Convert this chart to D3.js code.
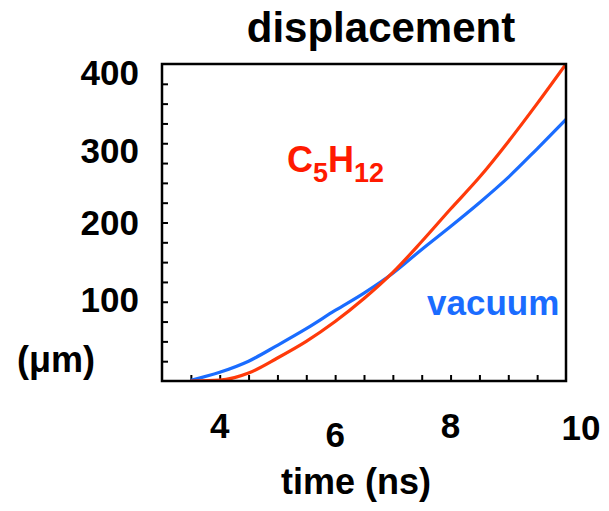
<!DOCTYPE html>
<html>
<head>
<meta charset="utf-8">
<script src="https://cdn.jsdelivr.net/npm/d3@7"></script>
<style>
  html, body { margin: 0; padding: 0; background: #fff; }
  svg { display: block; }
  text { font-family: Arial, "Liberation Sans", Helvetica, sans-serif; font-weight: bold; }
</style>
</head>
<body>
<svg id="chart" width="609" height="511"></svg>
<script>
// ---- data ----
const timeNs = [3.5, 4.0, 4.5, 5.0, 5.5, 6.0, 6.5, 7.0, 7.5, 8.0, 8.5, 9.0, 9.5, 10.0];
const pentaneDisp = [0, 1, 10, 29, 50, 75, 104, 137, 176, 217, 257, 302, 350, 400];
const vacuumDisp  = [1, 11, 25, 45, 66, 89, 111, 136, 166, 195, 225, 257, 293, 330];
const xTickLabels = [4, 6, 8, 10];
const yTickLabels = [100, 200, 300, 400];
const xMinorTicks = [3.5, 4, 4.5, 5, 5.5, 6, 6.5, 7, 7.5, 8, 8.5, 9, 9.5];
const yMinorTicks = [25, 50, 75, 100, 125, 150, 175, 200, 225, 250, 275, 300, 325, 350, 375];
const xDomain = [3, 10];
const yDomain = [0, 400];

// ---- layout ----
const svg = d3.select("#chart");
const plot = { left: 162, right: 566, top: 64, bottom: 381 };

const x = d3.scaleLinear().domain(xDomain).range([plot.left, plot.right]);
const y = d3.scaleLinear().domain(yDomain).range([plot.bottom, plot.top]);

// clip
svg.append("defs").append("clipPath").attr("id", "clip")
  .append("rect").attr("x", plot.left).attr("y", plot.top)
  .attr("width", plot.right - plot.left).attr("height", plot.bottom - plot.top);

// inward ticks
svg.append("g").attr("transform", `translate(0,${plot.bottom})`)
  .call(d3.axisBottom(x).tickValues(xMinorTicks).tickSize(-6).tickFormat(""))
  .call(g => g.select(".domain").remove())
  .call(g => g.selectAll("line").attr("stroke", "#000").attr("stroke-width", 2));

svg.append("g").attr("transform", `translate(${plot.left},0)`)
  .call(d3.axisLeft(y).tickValues(yMinorTicks).tickSize(-6).tickFormat(""))
  .call(g => g.select(".domain").remove())
  .call(g => g.selectAll("line").attr("stroke", "#000").attr("stroke-width", 2));

// lines
const line = d3.line().x((d, i) => x(timeNs[i])).y(d => y(d)).curve(d3.curveMonotoneX);

svg.append("path").datum(vacuumDisp)
  .attr("clip-path", "url(#clip)")
  .attr("fill", "none").attr("stroke", "#1a6cff").attr("stroke-width", 3.2)
  .attr("d", line);

svg.append("path").datum(pentaneDisp)
  .attr("clip-path", "url(#clip)")
  .attr("fill", "none").attr("stroke", "#ff3a0a").attr("stroke-width", 3.2)
  .attr("d", line);

// frame
svg.append("rect")
  .attr("x", plot.left).attr("y", plot.top)
  .attr("width", plot.right - plot.left).attr("height", plot.bottom - plot.top)
  .attr("fill", "none").attr("stroke", "#000").attr("stroke-width", 2.5);

// x tick labels (slightly hand-staggered as in the original)
const xLabelNudge = { 4: [0, 438], 6: [0, 447], 8: [0, 438], 10: [15, 440] };
svg.append("g").selectAll("text").data(xTickLabels).join("text")
  .attr("x", d => x(d) + xLabelNudge[d][0])
  .attr("y", d => xLabelNudge[d][1])
  .attr("text-anchor", "middle")
  .attr("font-size", 35)
  .attr("fill", "#000")
  .text(d => d);

// y tick labels
const yLabelNudge = { 100: 10, 200: 12, 300: 20, 400: 21 };
svg.append("g").selectAll("text").data(yTickLabels).join("text")
  .attr("x", 139)
  .attr("y", d => y(d) + yLabelNudge[d])
  .attr("text-anchor", "end")
  .attr("font-size", 35)
  .attr("fill", "#000")
  .text(d => d);

// unit label
svg.append("text").attr("x", 17).attr("y", 372)
  .attr("font-size", 36).attr("fill", "#000").text("(\u03bcm)");

// title
svg.append("text").attr("x", 381).attr("y", 42)
  .attr("text-anchor", "middle").attr("font-size", 42).attr("fill", "#000")
  .text("displacement");

// x axis title
svg.append("text").attr("x", 356).attr("y", 494)
  .attr("text-anchor", "middle").attr("font-size", 36).attr("fill", "#000")
  .text("time (ns)");

// series labels
const c5 = svg.append("text").attr("x", 287).attr("y", 172)
  .attr("font-size", 36).attr("fill", "#ff1a00");
c5.append("tspan").text("C");
c5.append("tspan").attr("font-size", 27).attr("dy", 10).text("5");
c5.append("tspan").attr("dy", -10).text("H");
c5.append("tspan").attr("font-size", 27).attr("dy", 10).text("12");

svg.append("text").attr("x", 427).attr("y", 315)
  .attr("font-size", 35).attr("fill", "#1a6cff").text("vacuum");
</script>
</body>
</html>
